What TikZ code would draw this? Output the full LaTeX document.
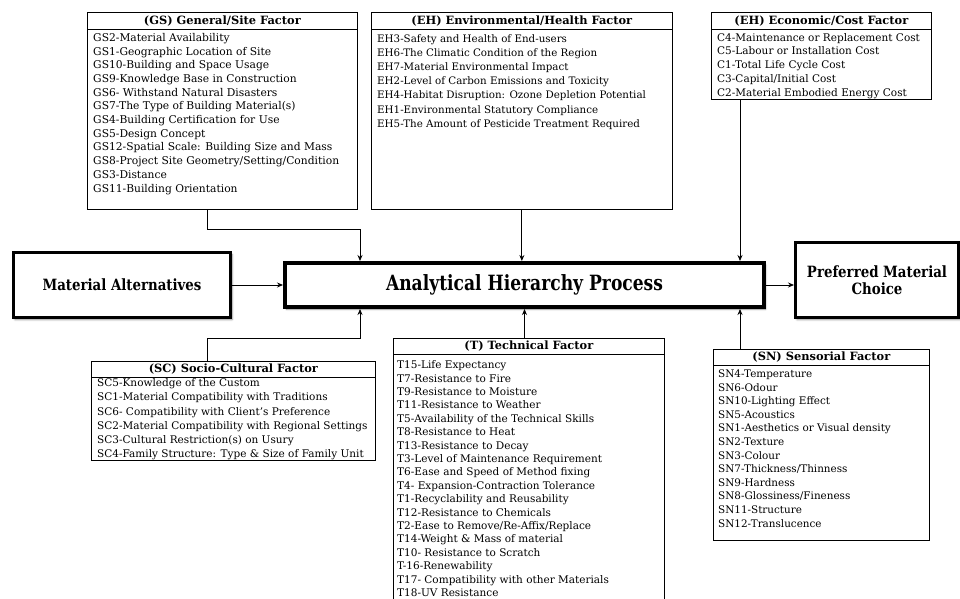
\documentclass[tikz,border=0pt]{standalone}
\usepackage{fontspec}
\setmainfont{DejaVu Serif}
\newfontfamily\condfont[FakeStretch=0.815]{DejaVu Serif}
\newfontfamily\semifont[FakeStretch=0.86]{DejaVu Serif}
\usetikzlibrary{arrows.meta,shadows.blur}
\tikzset{
  frame/.style={draw,line width=0.7pt,inner sep=0pt,anchor=north west},
  hdr/.style={frame,font=\fontsize{11.4}{13}\selectfont\bfseries},
  list/.style 2 args={inner sep=0pt,anchor=north west,align=left,font=\fontsize{#1}{#2}\selectfont},
  big/.style={draw,line width=3pt,inner sep=0pt,anchor=north west,align=center,fill=white,
    blur shadow={shadow xshift=1.5pt,shadow yshift=-2pt,shadow blur steps=6,shadow opacity=45}},
  arr/.style={line width=0.8pt,-{Stealth[length=6pt,width=5pt]}},
}
\begin{document}
\begin{tikzpicture}[x=1pt,y=-1pt]
\useasboundingbox (0,0) rectangle (960,598);
\clip (0,0) rectangle (960,598);
% GS
\node[hdr,minimum width=270pt,minimum height=17pt] (gsh) at (87,12) {(GS) General/Site Factor};
\node[frame,minimum width=270pt,minimum height=180pt] (gs) at (87,29) {};
\node[list={10.7}{13.7}] (gsl) at (93,33) {GS2-Material Availability\\GS1-Geographic Location of Site\\GS10-Building and Space Usage\\GS9-Knowledge Base in Construction\\GS6- Withstand Natural Disasters\\GS7-The Type of Building Material(s)\\GS4-Building Certification for Use\\GS5-Design Concept\\GS12-Spatial Scale: Building Size and Mass\\GS8-Project Site Geometry/Setting/Condition\\GS3-Distance\\GS11-Building Orientation};
% EH
\node[hdr,minimum width=301pt,minimum height=17pt] (ehh) at (371,12) {(EH) Environmental/Health Factor};
\node[frame,minimum width=301pt,minimum height=180pt] (eh) at (371,29) {};
\node[list={10.3}{14.2}] (ehl) at (377,34) {EH3-Safety and Health of End-users\\EH6-The Climatic Condition of the Region\\EH7-Material Environmental Impact\\EH2-Level of Carbon Emissions and Toxicity\\EH4-Habitat Disruption: Ozone Depletion Potential\\EH1-Environmental Statutory Compliance\\EH5-The Amount of Pesticide Treatment Required};
% EC
\node[hdr,minimum width=220pt,minimum height=17pt] (ech) at (711,12) {(EH) Economic/Cost Factor};
\node[frame,minimum width=220pt,minimum height=70pt] (ec) at (711,29) {};
\node[list={10.5}{13.75}] (ecl) at (717,33) {C4-Maintenance or Replacement Cost\\C5-Labour or Installation Cost\\C1-Total Life Cycle Cost\\C3-Capital/Initial Cost\\C2-Material Embodied Energy Cost};
% main boxes
\node[big,minimum width=217pt,minimum height=65pt,font=\semifont\bfseries\fontsize{15.5}{17.5}\selectfont] (ma) at (12,251) {Material Alternatives};
\node[big,line width=4pt,minimum width=479pt,minimum height=44pt,font=\condfont\bfseries\fontsize{21}{24}\selectfont] (ahp) at (283,261) {Analytical Hierarchy Process};
\node[big,minimum width=163pt,minimum height=75pt,font=\semifont\bfseries\fontsize{15.5}{17.5}\selectfont] (pmc) at (794,241) {Preferred Material\\Choice};
% SC
\node[hdr,minimum width=284pt,minimum height=16pt] (sch) at (91,361) {(SC) Socio-Cultural Factor};
\node[frame,minimum width=284pt,minimum height=83pt] (sc) at (91,377) {};
\node[list={10.5}{14.2}] (scl) at (97,378.5) {SC5-Knowledge of the Custom\\SC1-Material Compatibility with Traditions\\SC6- Compatibility with Client's Preference\\SC2-Material Compatibility with Regional Settings\\SC3-Cultural Restriction(s) on Usury\\SC4-Family Structure: Type \& Size of Family Unit};
% T
\node[hdr,minimum width=271pt,minimum height=16pt] (th) at (393,338) {(T) Technical Factor};
\node[frame,minimum width=271pt,minimum height=280pt] (t) at (393,354) {};
\node[list={10.5}{13.4}] (tl) at (397,360.5) {T15-Life Expectancy\\T7-Resistance to Fire\\T9-Resistance to Moisture\\T11-Resistance to Weather\\T5-Availability of the Technical Skills\\T8-Resistance to Heat\\T13-Resistance to Decay\\T3-Level of Maintenance Requirement\\T6-Ease and Speed of Method fixing\\T4- Expansion-Contraction Tolerance\\T1-Recyclability and Reusability\\T12-Resistance to Chemicals\\T2-Ease to Remove/Re-Affix/Replace\\T14-Weight \& Mass of material\\T10- Resistance to Scratch\\T-16-Renewability\\T17- Compatibility with other Materials\\T18-UV Resistance};
% SN
\node[hdr,minimum width=216pt,minimum height=16pt] (snh) at (713,349) {(SN) Sensorial Factor};
\node[frame,minimum width=216pt,minimum height=175pt] (sn) at (713,365) {};
\node[list={10.4}{13.6}] (snl) at (718,369.5) {SN4-Temperature\\SN6-Odour\\SN10-Lighting Effect\\SN5-Acoustics\\SN1-Aesthetics or Visual density\\SN2-Texture\\SN3-Colour\\SN7-Thickness/Thinness\\SN9-Hardness\\SN8-Glossiness/Fineness\\SN11-Structure\\SN12-Translucence};
% connectors
\draw[arr] ([xshift=120pt]gs.south west) -- ++(0,20) -| ([xshift=77pt]ahp.north west);
\draw[arr] (eh.south) -- (eh.south |- ahp.north);
\draw[arr] ([xshift=29pt]ec.south west) -- ([xshift=29pt]ec.south west |- ahp.north);
\draw[arr] ([xshift=116pt]sch.north west) -- ++(0,-23) -| ([xshift=77pt]ahp.south west);
\draw[arr] (th.north -| ahp.south) -- (ahp.south);
\draw[arr] ([xshift=27pt]snh.north west) -- ([xshift=27pt]snh.north west |- ahp.south);
\draw[arr] (ma) -- (ahp);
\draw[arr] (ahp.east) -- (ahp.east -| pmc.west);
\end{tikzpicture}
\end{document}
